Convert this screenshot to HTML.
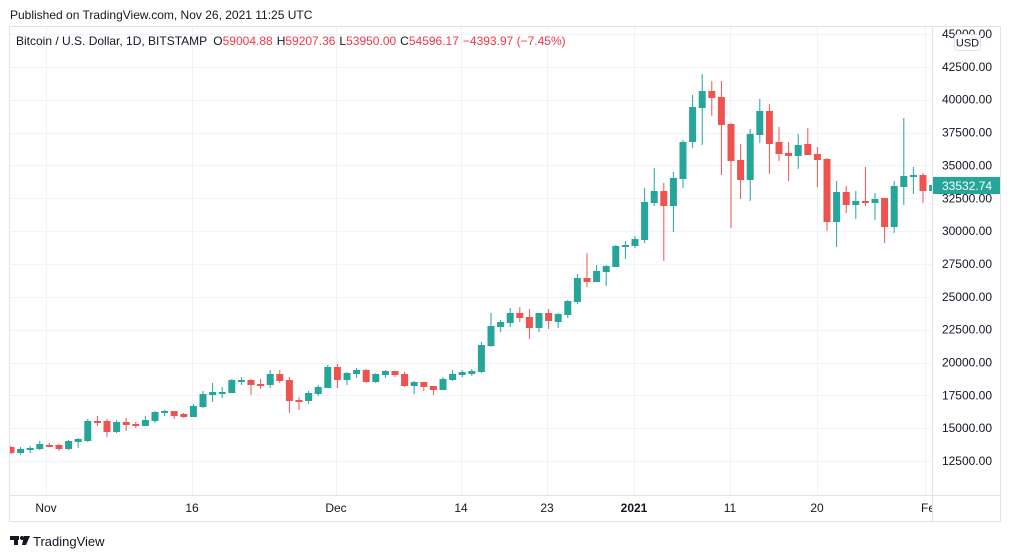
<!DOCTYPE html>
<html><head><meta charset="utf-8"><style>
html,body{margin:0;padding:0;background:#fff;width:1012px;height:558px;overflow:hidden;font-family:"Liberation Sans","DejaVu Sans",sans-serif}
svg{position:absolute;left:0;top:0}
</style></head><body>
<svg id="s" width="1012" height="558" xmlns="http://www.w3.org/2000/svg" font-family="Liberation Sans, DejaVu Sans, sans-serif">
<defs><clipPath id="cl"><rect x="10" y="496" width="922" height="25"/></clipPath></defs>
<text x="10" y="19" font-size="12" fill="#131722">Published on TradingView.com, Nov 26, 2021 11:25 UTC</text>
<rect x="9.5" y="26.5" width="991" height="495" fill="none" stroke="#e0e3eb"/>
<g id="grid" stroke="#f0f3fa" stroke-width="1"></g>
<line x1="932.5" y1="27" x2="932.5" y2="521" stroke="#e0e3eb"/>
<line x1="10" y1="495.5" x2="1000" y2="495.5" stroke="#e0e3eb"/>
<g id="c"></g>
<text x="16" y="45" font-size="12" fill="#131722">Bitcoin / U.S. Dollar, 1D, BITSTAMP <tspan dx="3">O</tspan><tspan fill="#f23645">59004.88</tspan><tspan dx="4">H</tspan><tspan fill="#f23645">59207.36</tspan><tspan dx="4">L</tspan><tspan fill="#f23645">53950.00</tspan><tspan dx="4">C</tspan><tspan fill="#f23645">54596.17</tspan><tspan dx="4" fill="#f23645">−4393.97 (−7.45%)</tspan></text>
<g id="pl" font-size="12" fill="#131722"></g>
<rect x="954.5" y="34.5" width="26" height="16" rx="3" fill="#fff" stroke="#e0e3eb"/>
<text x="967.5" y="46.5" font-size="11" fill="#131722" text-anchor="middle">USD</text>
<rect x="933" y="177" width="67" height="17" fill="#26a69a"/>
<text x="942" y="190" font-size="12" fill="#fff">33532.74</text>
<g font-size="12" fill="#131722" text-anchor="middle" clip-path="url(#cl)">
<text x="46" y="512">Nov</text><text x="192" y="512">16</text><text x="336" y="512">Dec</text>
<text x="461" y="512">14</text><text x="547" y="512">23</text><text x="634" y="512" font-weight="bold">2021</text>
<text x="730" y="512">11</text><text x="817" y="512">20</text><text x="921" y="512" text-anchor="start">Feb</text>
</g>
<g fill="#131722"><rect x="10" y="536" width="9" height="4"/><rect x="14" y="536" width="4" height="9"/><circle cx="22" cy="538" r="2"/><polygon points="24,536 30,536 26,545 22,545"/></g>
<text x="33" y="546" font-size="13" fill="#131722">TradingView</text>
</svg>
<script>
var d=[["r",447,453,446,454],["g",449,453,447,455],["g",448,450,446,453],["g",444,449,441,450],["r",445,446,443,447],["r",445,449,444,451],["g",441,449,440,450],["g",439,442,438,448],["g",421,441,419,442],["r",421,422,416,426],["r",421,432,419,437],["g",422,432,420,433],["r",422,425,418,431],["r",424,426,422,428],["g",420,426,416,426],["g",412,421,411,423],["g",411,413,410,416],["r",411,416,411,419],["r",414,417,413,418],["g",406,417,404,417],["g",394,407,391,408],["g",392,395,383,402],["g",392,393,387,398],["g",380,393,379,393],["g",380,381,377,385],["r",380,385,379,395],["r",384,385,379,389],["g",374,385,370,388],["r",374,381,370,383],["r",380,401,377,413],["r",400,402,397,410],["g",393,401,391,404],["g",387,394,385,396],["g",367,388,365,388],["r",367,380,364,388],["g",373,380,372,385],["g",370,374,368,378],["r",370,382,369,383],["g",374,382,373,383],["g",371,375,370,378],["r",371,375,371,377],["r",374,386,372,387],["g",382,386,381,394],["r",382,387,382,391],["r",386,390,386,395],["g",379,390,377,390],["g",374,380,370,381],["g",372,375,370,377],["g",371,374,369,376],["g",345,372,342,373],["g",326,346,313,347],["g",322,327,320,332],["g",313,323,308,327],["r",313,318,307,322],["r",317,328,309,339],["g",313,328,313,332],["r",313,321,309,329],["g",314,322,313,328],["g",301,315,300,318],["g",278,302,274,304],["r",278,282,253,287],["g",271,282,265,282],["g",266,272,265,286],["g",246,267,245,267],["g",245,246,241,259],["g",239,246,236,248],["g",202,240,188,243],["g",191,203,168,206],["r",191,206,183,261],["g",178,206,172,232],["g",142,179,140,188],["g",107,142,95,148],["g",91,108,74,145],["r",91,98,81,116],["r",97,125,81,175],["r",124,161,123,228],["r",160,180,144,199],["g",134,180,129,201],["g",111,135,99,143],["r",111,144,104,174],["r",142,154,127,161],["r",153,156,142,181],["g",145,156,134,169],["r",144,155,128,155],["r",154,160,147,187],["r",159,222,158,231],["g",192,222,181,247],["r",192,205,186,213],["g",201,205,191,219],["r",201,203,167,206],["g",199,203,193,220],["r",198,227,198,243],["g",186,227,181,233],["g",176,187,118,205],["g",175,177,167,194],["r",175,191,173,203],["g",185,191,182,192]];
var c=document.getElementById("c"),h="";
d.forEach(function(e,i){var x=11+i*9.6,col=e[0]=="g"?"#26a69a":"#ef5350";var bh=Math.max(e[2]-e[1],2);
if(x+3.5>932) {h+='<rect x="'+(x-3.5)+'" y="'+e[1]+'" width="'+(932-x+3.5)+'" height="'+bh+'" fill="'+col+'"/>';return;}
h+='<line x1="'+x+'" x2="'+x+'" y1="'+e[3]+'" y2="'+e[4]+'" stroke="'+col+'" stroke-width="1"/>';
var l=Math.max(x-3.5,10);h+='<rect x="'+l+'" y="'+e[1]+'" width="'+(x+3.5-l)+'" height="'+bh+'" fill="'+col+'"/>';});
c.innerHTML=h;
var g="",p="";
for(var k=0;k<=13;k++){var v=45000-k*2500,y=34+k*32.85;g+='<line x1="10" x2="932" y1="'+(Math.round(y)+0.5)+'" y2="'+(Math.round(y)+0.5)+'"/>';p+='<text x="992" y="'+(y+4)+'" text-anchor="end">'+v+'.00</text>';}
[46,192,336,461,547,634,730,817,925].forEach(function(x){g+='<line x1="'+(x+0.5)+'" x2="'+(x+0.5)+'" y1="27" y2="495"/>';});
document.getElementById("grid").innerHTML=g;document.getElementById("pl").innerHTML=p;
</script>
</body></html>
